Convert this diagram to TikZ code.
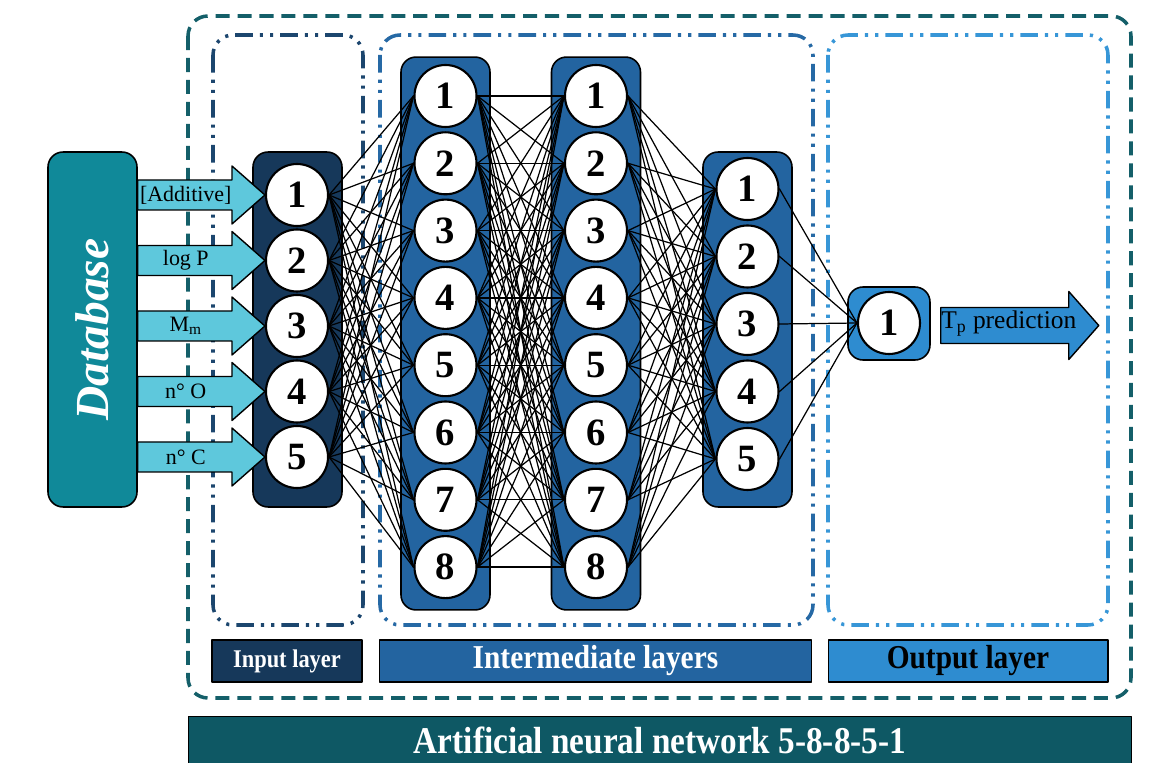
\documentclass[tikz,border=0pt]{standalone}
\usepackage{fontspec}
\setmainfont{Liberation Serif}
\newfontfamily\condfont[FakeStretch=0.88]{Liberation Serif}
\usetikzlibrary{calc,positioning}
\usetikzlibrary{arrows.meta}

\definecolor{dbteal}{RGB}{16,137,153}
\definecolor{arrowcyan}{RGB}{94,200,220}
\definecolor{navycol}{RGB}{22,56,90}
\definecolor{midcol}{RGB}{35,100,160}
\definecolor{outcol}{RGB}{46,140,208}
\definecolor{frameteal}{RGB}{20,95,105}
\definecolor{inframe}{RGB}{28,70,110}
\definecolor{midframe}{RGB}{38,105,165}
\definecolor{outframe}{RGB}{55,150,215}
\definecolor{bannerteal}{RGB}{14,88,100}

\tikzset{
  neuron/.style={circle,draw=black,line width=1.2pt,fill=white,minimum size=1.24cm,
    inner sep=0pt,font=\fontsize{22}{24}\selectfont\bfseries},
  column/.style={draw=black,line width=0.9pt,rounded corners=0.3cm,minimum width=1.78cm,inner sep=0pt},
  link/.style={line width=0.7pt},
  inarrow/.style={draw=black,line width=0.8pt,fill=arrowcyan},
  netframe/.style={line width=2pt,line cap=butt,rounded corners=0.4cm,dash pattern=on 8pt off 4.5pt},
  layerframe/.style={line width=2pt,line cap=butt,rounded corners=0.4cm,
    dash pattern=on 10pt off 4pt on 1.8pt off 4pt on 1.8pt off 4pt},
  tag/.style={draw=black,line width=0.6pt,minimum height=0.84cm,inner sep=0pt},
}

\begin{document}
\begin{tikzpicture}[x=0.02cm,y=-0.02cm,>=Stealth,line cap=round,line join=round]
  \useasboundingbox (0,0) rectangle (1161,763);

  % frames
  \draw[netframe,draw=frameteal] (188,16) rectangle (1131,698);
  \draw[layerframe,draw=inframe] (213,35) rectangle (363,625);
  \draw[layerframe,draw=midframe] (380,35) rectangle (813,625);
  \draw[layerframe,draw=outframe] (828,35) rectangle (1108,625);

  % columns
  \node[column,fill=dbteal,minimum height=7.1cm] (db) at (92.5,329.5) {};
  \node[rotate=90,text=white,font=\fontsize{27}{29}\selectfont\bfseries\itshape] (dblabel) at (db) {Database};
  \node[column,fill=navycol,minimum height=7.1cm] (incol) at (297.5,329.5) {};
  \node[column,fill=midcol,minimum height=11.06cm] (hcolA) at (445.5,333.5) {};
  \node[column,fill=midcol,minimum height=11.06cm] (hcolB) at (596,333.5) {};
  \node[column,fill=midcol,minimum height=7.1cm] (hcolC) at (747.5,329.5) {};
  \node[column,fill=outcol,minimum width=1.64cm,minimum height=1.46cm] (ocol) at (889,323.5) {};

  % neurons
  \foreach \k in {1,...,5} \node[neuron] (i\k) at (297,{195+65.5*(\k-1)}) {\k};
  \foreach \k in {1,...,8} {
    \node[neuron] (a\k) at (445.5,{96+67.3*(\k-1)}) {\k};
    \node[neuron] (b\k) at (596,{96+67.3*(\k-1)}) {\k};
  }
  \foreach \k in {1,...,5} \node[neuron] (c\k) at (747.5,{189+67.5*(\k-1)}) {\k};
  \node[neuron] (o1) at (889,323) {1};

  % weights
  \foreach \k in {1,...,5} \foreach \j in {1,...,8} \draw[link] (i\k.east) -- (a\j.west);
  \foreach \k in {1,...,8} \foreach \j in {1,...,8} \draw[link] (a\k.east) -- (b\j.west);
  \foreach \k in {1,...,8} \foreach \j in {1,...,5} \draw[link] (b\k.east) -- (c\j.west);
  \foreach \k in {1,...,5} \draw[link] (c\k.east) -- (o1.west);

  % input arrows
  \foreach \k/\txt in {1/{[Additive]},2/{log P},3/{M\textsubscript{m}},4/{n° O},5/{n° C}} {
    \draw[inarrow] ($(db.east |- i\k)+(0,-15)$) -- ($(i\k.west)+(-33,-15)$) -- ($(i\k.west)+(-33,-29)$)
      -- (i\k.west) -- ($(i\k.west)+(-33,29)$) -- ($(i\k.west)+(-33,15)$) -- ($(db.east |- i\k)+(0,15)$) -- cycle;
    \node[font=\fontsize{12.5}{14}\selectfont] (lbl\k) at ($(db.east |- i\k)+(48,0)$) {\txt};
  }

  % output arrow
  \draw[inarrow,fill=outcol] ($(ocol.east)+(10,-16)$) -- ++(128,0) -- ++(0,-16) -- ++(30,34)
    -- ++(-30,34) -- ++(0,-16) -- ++(-128,0) -- cycle;
  \node[font=\fontsize{14.5}{16}\selectfont] (tpred) at ($(ocol.east)+(78,0)$) {T\textsubscript{p} prediction};

  % layer tags
  \node[tag,fill=navycol,text=white,minimum width=3cm,
    font=\condfont\bfseries\fontsize{14.5}{16}\selectfont] (intag) at (287,661) {Input layer};
  \node[tag,fill=midcol,text=white,minimum width=8.66cm,
    font=\condfont\bfseries\fontsize{19}{21}\selectfont] (midtag) at (595.5,661) {Intermediate layers};
  \node[tag,fill=outcol,text=black,minimum width=5.6cm,
    font=\condfont\bfseries\fontsize{19}{21}\selectfont] (outtag) at (968,661) {Output layer};

  % banner
  \node[draw=black,line width=0.6pt,fill=bannerteal,text=white,minimum width=18.88cm,minimum height=0.96cm,
    anchor=north,font=\condfont\bfseries\fontsize{21.5}{24}\selectfont] (banner) at (660,716)
    {Artificial neural network 5-8-8-5-1};
\end{tikzpicture}
\end{document}
